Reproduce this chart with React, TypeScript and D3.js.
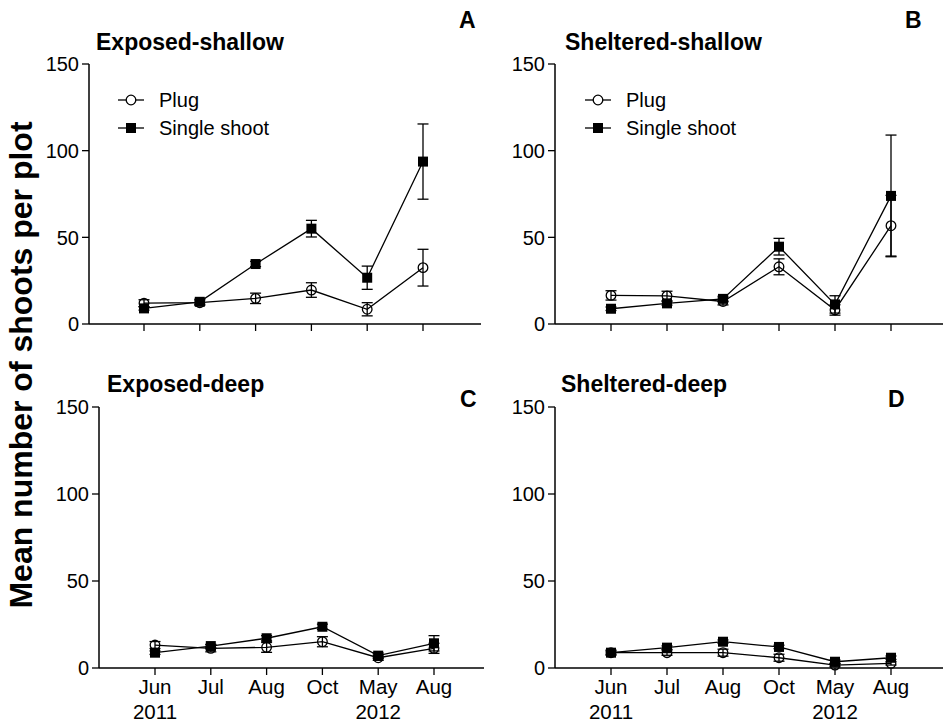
import React from "react";
import * as d3 from "d3";

const monthLabels = ["Jun", "Jul", "Aug", "Oct", "May", "Aug"];
const yearLabels = ["2011", "", "", "", "2012", ""];
const yTicks = [0, 50, 100, 150];

const aPlug = [12, 12.3, 14.8, 19.6, 8.5, 32.5];
const aPlugErr = [2, 1.5, 3, 4.2, 3.8, 10.6];
const aSingle = [9, 12.8, 34.6, 55, 26.7, 93.7];
const aSingleErr = [1, 1.5, 1.5, 4.8, 6.7, 21.7];

const bPlug = [16.5, 16.2, 13, 33, 8.1, 56.7];
const bPlugErr = [2.7, 2.7, 2, 4.6, 3, 17.5];
const bSingle = [8.8, 11.9, 14.5, 44.6, 11.3, 73.9];
const bSingleErr = [1, 1, 1.5, 4.8, 5, 35.1];

const cPlug = [13.2, 11.3, 11.9, 15.1, 5.9, 11.3];
const cPlugErr = [2, 2, 2.9, 2.9, 1.5, 2.9];
const cSingle = [8.8, 12.6, 17.1, 23.7, 7.1, 14.2];
const cSingleErr = [1, 1, 1.5, 1.5, 1.5, 4.4];

const dPlug = [8.8, 8.8, 8.8, 5.9, 1.7, 2.7];
const dPlugErr = [1.5, 1.5, 2, 2, 1, 1];
const dSingle = [8.8, 11.7, 15.1, 12.1, 3.6, 5.9];
const dSingleErr = [1, 1, 1, 1, 1, 1];

const FONT = "'Liberation Sans', Arial, Helvetica, sans-serif";

type PanelProps = {
  axisX: number;
  xEnd: number;
  tick0: number;
  tick5: number;
  yTop: number;
  yBottom: number;
  title: string;
  titleX: number;
  titleY: number;
  letter: string;
  letterX: number;
  letterY: number;
  plug: number[];
  plugErr: number[];
  single: number[];
  singleErr: number[];
  legend?: { x: number; y: number };
  showXLabels: boolean;
};

function Panel(p: PanelProps) {
  const idx = monthLabels.map((_, i) => i);
  const x = d3.scalePoint<number>().domain(idx).range([p.tick0, p.tick5]);
  const y = d3.scaleLinear().domain([0, 150]).range([p.yBottom, p.yTop]);
  const line = d3
    .line<number>()
    .x((_, i) => x(i) as number)
    .y((v) => y(v));
  const cap = 5.5;
  const sq = 10;
  const r = 4.8;

  const errBars = (vals: number[], errs: number[], key: string) =>
    vals.map((v, i) => {
      const cx = x(i) as number;
      const y1 = y(v + errs[i]);
      const y2 = y(Math.max(0, v - errs[i]));
      return (
        <g key={key + i} stroke="#000" strokeWidth={1.3}>
          <line x1={cx} x2={cx} y1={y1} y2={y2} />
          <line x1={cx - cap} x2={cx + cap} y1={y1} y2={y1} />
          <line x1={cx - cap} x2={cx + cap} y1={y2} y2={y2} />
        </g>
      );
    });

  return (
    <g fontFamily={FONT}>
      <line x1={p.axisX} x2={p.axisX} y1={p.yTop} y2={p.yBottom} stroke="#000" strokeWidth={1.5} />
      <line x1={p.axisX} x2={p.xEnd} y1={p.yBottom} y2={p.yBottom} stroke="#000" strokeWidth={1.5} />
      {yTicks.map((t) => (
        <g key={"yt" + t}>
          <line x1={p.axisX - 7} x2={p.axisX} y1={y(t)} y2={y(t)} stroke="#000" strokeWidth={1.3} />
          <text x={p.axisX - 10} y={y(t)} dy="0.36em" textAnchor="end" fontSize={20}>
            {t}
          </text>
        </g>
      ))}
      {idx.map((i) => (
        <g key={"xt" + i}>
          <line x1={x(i)} x2={x(i)} y1={p.yBottom} y2={p.yBottom + 7} stroke="#000" strokeWidth={1.3} />
          {p.showXLabels && (
            <>
              <text x={x(i)} y={p.yBottom + 26} textAnchor="middle" fontSize={20.5}>
                {monthLabels[i]}
              </text>
              {yearLabels[i] && (
                <text x={x(i)} y={p.yBottom + 51} textAnchor="middle" fontSize={20.5}>
                  {yearLabels[i]}
                </text>
              )}
            </>
          )}
        </g>
      ))}
      <path d={line(p.plug) || ""} fill="none" stroke="#000" strokeWidth={1.3} />
      <path d={line(p.single) || ""} fill="none" stroke="#000" strokeWidth={1.3} />
      {errBars(p.plug, p.plugErr, "pe")}
      {errBars(p.single, p.singleErr, "se")}
      {p.single.map((v, i) => (
        <rect key={"s" + i} x={(x(i) as number) - sq / 2} y={y(v) - sq / 2} width={sq} height={sq} fill="#000" />
      ))}
      {p.plug.map((v, i) => (
        <circle key={"c" + i} cx={x(i)} cy={y(v)} r={r} fill="none" stroke="#000" strokeWidth={1.3} />
      ))}
      <text x={p.titleX} y={p.titleY} fontSize={23} fontWeight="bold">
        {p.title}
      </text>
      <text x={p.letterX} y={p.letterY} fontSize={23} fontWeight="bold">
        {p.letter}
      </text>
      {p.legend && (
        <g>
          <line x1={p.legend.x} x2={p.legend.x + 26} y1={p.legend.y} y2={p.legend.y} stroke="#000" strokeWidth={1.3} />
          <circle cx={p.legend.x + 13} cy={p.legend.y} r={r} fill="#fff" stroke="#000" strokeWidth={1.3} />
          <text x={p.legend.x + 41} y={p.legend.y} dy="0.36em" fontSize={20}>
            Plug
          </text>
          <line x1={p.legend.x} x2={p.legend.x + 26} y1={p.legend.y + 28} y2={p.legend.y + 28} stroke="#000" strokeWidth={1.3} />
          <rect x={p.legend.x + 13 - sq / 2} y={p.legend.y + 28 - sq / 2} width={sq} height={sq} fill="#000" />
          <text x={p.legend.x + 41} y={p.legend.y + 28} dy="0.36em" fontSize={20}>
            Single shoot
          </text>
        </g>
      )}
    </g>
  );
}

export default function App() {
  return (
    <svg
      width={943}
      height={722}
      viewBox="0 0 943 722"
      style={{ position: "absolute", left: 0, top: 0, background: "#fff" }}
    >
      <rect x={0} y={0} width={943} height={722} fill="#fff" />
      <Panel
        axisX={89} xEnd={481} tick0={144} tick5={423} yTop={64} yBottom={324}
        title="Exposed-shallow" titleX={96} titleY={50}
        letter="A" letterX={459} letterY={28}
        plug={aPlug} plugErr={aPlugErr} single={aSingle} singleErr={aSingleErr}
        legend={{ x: 118, y: 100 }} showXLabels={false}
      />
      <Panel
        axisX={555} xEnd={943} tick0={611} tick5={891} yTop={64} yBottom={324}
        title="Sheltered-shallow" titleX={565} titleY={50}
        letter="B" letterX={905} letterY={28}
        plug={bPlug} plugErr={bPlugErr} single={bSingle} singleErr={bSingleErr}
        legend={{ x: 585, y: 100 }} showXLabels={false}
      />
      <Panel
        axisX={99} xEnd={484} tick0={155} tick5={434} yTop={407} yBottom={668}
        title="Exposed-deep" titleX={107} titleY={392}
        letter="C" letterX={460} letterY={407}
        plug={cPlug} plugErr={cPlugErr} single={cSingle} singleErr={cSingleErr}
        showXLabels={true}
      />
      <Panel
        axisX={555} xEnd={943} tick0={611} tick5={891} yTop={407} yBottom={668}
        title="Sheltered-deep" titleX={561} titleY={392}
        letter="D" letterX={888} letterY={407}
        plug={dPlug} plugErr={dPlugErr} single={dSingle} singleErr={dSingleErr}
        showXLabels={true}
      />
      <text
        transform="translate(32,365) rotate(-90)"
        textAnchor="middle"
        fontFamily={FONT}
        fontSize={32}
        fontWeight="bold"
      >
        Mean number of shoots per plot
      </text>
    </svg>
  );
}
